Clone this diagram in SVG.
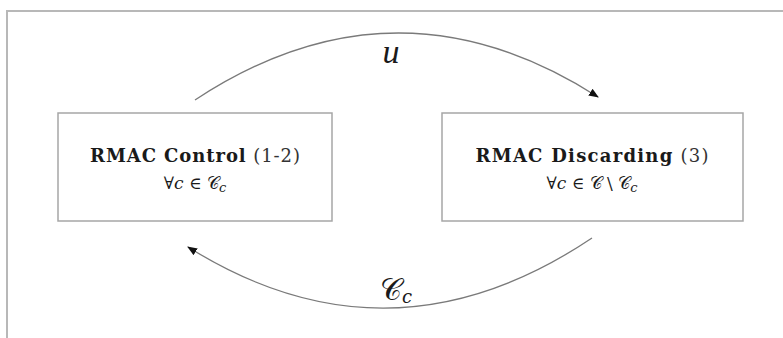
<svg xmlns="http://www.w3.org/2000/svg" width="783" height="338" viewBox="0 0 783 338">
  <style>
    .frame { fill: none; stroke: #b8b8b8; stroke-width: 2; }
    .box { fill: #ffffff; stroke: #a6a6a6; stroke-width: 1.5; }
    .edge { fill: none; stroke: #7a7a7a; stroke-width: 1.3; }
    .t { font-family: "DejaVu Serif", "Liberation Serif", serif; fill: #1a1a1a; text-anchor: middle; }
    .title { font-size: 18px; }
    .b { font-weight: bold; }
    .n { fill: #333333; font-weight: normal; }
    .m { font-size: 17px; }
    .lbl { font-family: "Liberation Serif", "DejaVu Serif", serif; font-size: 34px; font-style: italic; }
    .cal { font-size: 30px; }
    .sub { font-size: 13px; font-style: italic; }
    .sub2 { font-size: 18px; font-style: italic; }
  </style>
  <defs>
    <marker id="arrow" viewBox="0 0 10 8" refX="9" refY="4" markerWidth="10" markerHeight="8" markerUnits="userSpaceOnUse" orient="auto">
      <path d="M0,0 L10,4 L0,8 Z" fill="#111111"/>
    </marker>
  </defs>

  <rect width="783" height="338" fill="#ffffff"/>
  <!-- outer frame (open on right and bottom) -->
  <path class="frame" d="M7,338 L7,11 L783,11"/>

  <g id="connectors">
    <path id="edge-u" class="edge" d="M195,100 Q396,-32.5 598,97" marker-end="url(#arrow)"/>
    <text class="t lbl" x="391" y="63">u</text>
    <path id="edge-cc" class="edge" d="M592,238 Q390,373.5 188,247" marker-end="url(#arrow)"/>
    <text class="t cal" x="396" y="300">𝒞<tspan class="sub2" dy="3">c</tspan></text>
  </g>

  <g id="node-control">
    <rect class="box" x="58" y="113" width="274" height="108"/>
    <text class="t title" x="195" y="162" textLength="210" lengthAdjust="spacing"><tspan class="b">RMAC Control</tspan> <tspan class="n">(1-2)</tspan></text>
    <text class="t m" x="195" y="189">∀<tspan font-style="italic">c</tspan> ∈ 𝒞<tspan class="sub" dy="3">c</tspan></text>
  </g>

  <g id="node-discarding">
    <rect class="box" x="442" y="113" width="301" height="108"/>
    <text class="t title" x="592" y="162" textLength="233" lengthAdjust="spacing"><tspan class="b">RMAC Discarding</tspan> <tspan class="n">(3)</tspan></text>
    <text class="t m" x="592" y="189">∀<tspan font-style="italic">c</tspan> ∈ 𝒞 \ 𝒞<tspan class="sub" dy="3">c</tspan></text>
  </g>
</svg>
